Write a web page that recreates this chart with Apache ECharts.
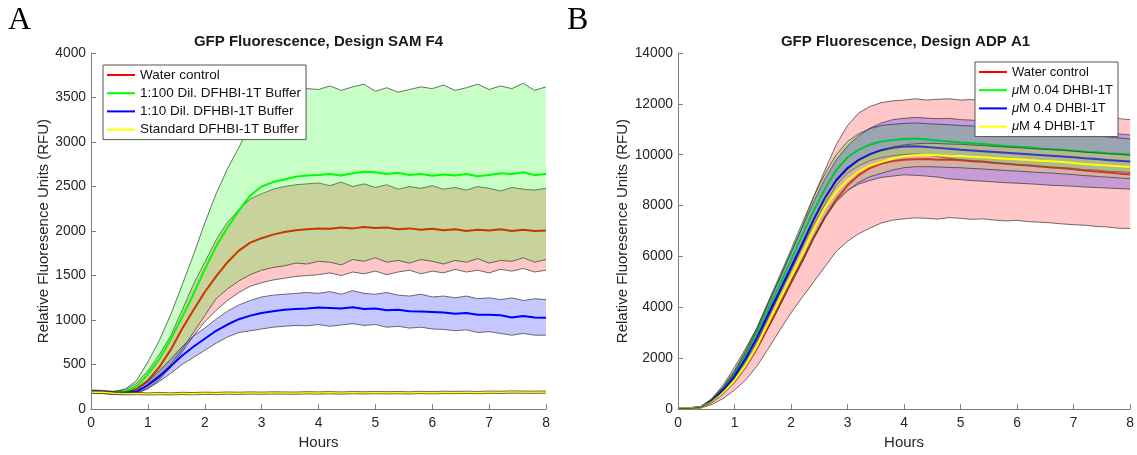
<!DOCTYPE html>
<html><head><meta charset="utf-8">
<script src="https://cdn.jsdelivr.net/npm/echarts@6/dist/echarts.min.js"></script>
<style>html,body{margin:0;padding:0;background:#fff}#c{width:1137px;height:455px}</style>
</head><body><div id="c"></div><script>
// ---------- data ----------
const hours = [0,0.2,0.4,0.6,0.8,1,1.2,1.4,1.6,1.8,2,2.2,2.4,2.6,2.8,3,3.2,3.4,3.6,3.8,4,4.2,4.4,4.6,4.8,5,5.2,5.4,5.6,5.8,6,6.2,6.4,6.6,6.8,7,7.2,7.4,7.6,7.8,8];

const namesA = ['Water control','1:100 Dil. DFHBI-1T Buffer','1:10 Dil. DFHBI-1T Buffer','Standard DFHBI-1T Buffer'];
const namesB = ['Water control','μM 0.04 DHBI-1T','μM 0.4 DHBI-1T','μM 4 DHBI-1T'];

const yTicksA = [0,500,1000,1500,2000,2500,3000,3500,4000];
const yTicksB = [0,2000,4000,6000,8000,10000,12000,14000];
const xTicks = [0,1,2,3,4,5,6,7,8];

// Panel A (SAM F4)
const aRedMean = [200,195,185,190,225,320,470,665,900,1110,1315,1490,1650,1780,1870,1920,1960,1990,2010,2020,2030,2025,2040,2030,2045,2035,2040,2020,2030,2015,2025,2010,2020,2000,2015,2005,2020,2000,2015,2000,2005];
const aRedLo   = [185,180,170,170,185,230,330,470,640,820,980,1110,1220,1310,1380,1420,1450,1470,1490,1500,1510,1530,1500,1540,1520,1550,1510,1540,1560,1520,1550,1530,1570,1540,1560,1530,1570,1550,1580,1540,1560];
const aRedHi   = [215,210,200,215,290,430,610,820,1110,1400,1650,1900,2100,2240,2360,2420,2470,2500,2520,2530,2540,2510,2550,2500,2530,2490,2520,2470,2500,2480,2510,2470,2490,2460,2500,2480,2450,2490,2470,2460,2480];

const aGreenMean = [195,190,180,195,255,390,560,780,1030,1290,1570,1830,2040,2230,2400,2500,2550,2580,2610,2625,2630,2640,2625,2650,2665,2660,2640,2655,2630,2640,2620,2635,2625,2640,2615,2630,2650,2640,2660,2630,2640];
const aGreenLo   = [180,175,165,170,195,260,350,500,670,860,1050,1240,1350,1440,1510,1560,1590,1610,1640,1630,1660,1650,1620,1680,1660,1700,1650,1670,1640,1680,1660,1630,1670,1650,1690,1640,1670,1660,1700,1650,1680];
const aGreenHi   = [210,205,195,225,320,530,770,1060,1390,1730,2090,2420,2700,2940,3190,3370,3490,3540,3580,3600,3590,3630,3580,3620,3650,3570,3610,3560,3590,3620,3600,3640,3580,3610,3650,3590,3630,3600,3660,3580,3620];

const aBlueMean = [195,190,180,180,195,270,370,480,600,700,790,880,950,1010,1050,1080,1100,1115,1125,1130,1140,1135,1130,1145,1125,1130,1110,1115,1100,1095,1090,1085,1070,1080,1060,1060,1055,1030,1045,1030,1025];
const aBlueLo   = [185,180,170,170,175,230,310,400,500,580,660,740,810,860,880,900,920,930,940,935,950,930,945,960,940,950,920,930,910,920,900,895,880,890,860,870,850,830,850,830,830];
const aBlueHi   = [205,200,190,195,215,310,430,560,700,820,910,1010,1100,1170,1220,1260,1280,1290,1300,1310,1300,1320,1290,1330,1300,1290,1310,1280,1270,1290,1260,1270,1250,1270,1240,1250,1230,1250,1220,1240,1230];

const aYellowMean = [190,188,178,172,175,170,174,171,176,173,178,175,180,177,181,178,182,180,179,183,181,184,180,185,182,186,183,185,182,187,184,188,186,189,185,190,188,192,190,189,191];
const aYellowLo   = [176,175,165,160,162,158,161,159,163,160,165,162,167,164,168,165,169,167,166,170,168,171,167,172,169,173,170,172,169,174,171,175,173,176,172,177,175,179,177,176,178];
const aYellowHi   = [204,201,191,184,188,182,187,183,189,186,191,188,193,190,194,191,195,193,192,196,194,197,193,198,195,199,196,198,195,200,197,201,199,202,198,203,201,205,203,202,204];

// Panel B (ADP A1)
const bRedMean = [30,30,70,300,680,1150,1750,2450,3250,4100,5000,5850,6750,7550,8250,8800,9200,9480,9650,9750,9800,9820,9830,9800,9810,9780,9740,9720,9680,9650,9610,9580,9540,9500,9470,9430,9380,9340,9300,9260,9220];
const bRedLo   = [20,20,40,180,420,750,1150,1700,2380,3100,3780,4400,5000,5600,6200,6600,6900,7120,7320,7430,7480,7520,7500,7470,7530,7500,7460,7480,7430,7400,7420,7370,7350,7320,7280,7250,7230,7180,7160,7110,7100];
const bRedHi   = [40,40,100,420,950,1650,2400,3200,4200,5150,6150,7200,8350,9400,10400,11150,11650,11900,12050,12120,12150,12200,12150,12180,12200,12150,12170,12120,12100,12050,12000,11950,11900,11820,11750,11680,11600,11530,11480,11420,11380];

const bGreenMean = [30,30,80,350,800,1400,2150,3000,3950,4900,5850,6850,7800,8650,9400,9900,10200,10400,10520,10580,10620,10640,10600,10560,10520,10480,10450,10420,10380,10340,10310,10290,10250,10220,10200,10160,10120,10100,10060,10040,10010];
const bGreenLo   = [25,25,70,310,720,1280,1980,2780,3660,4550,5430,6370,7250,8050,8800,9280,9570,9770,9890,9960,10010,10030,9980,9920,9860,9810,9770,9740,9690,9650,9610,9600,9550,9520,9500,9460,9410,9400,9350,9340,9300];
const bGreenHi   = [35,35,90,390,880,1520,2320,3220,4240,5250,6270,7330,8350,9250,10000,10520,10830,11030,11150,11200,11230,11250,11220,11200,11180,11150,11130,11100,11070,11030,11010,10980,10950,10920,10880,10820,10780,10740,10700,10660,10620];

const bBlueMean = [30,30,70,320,750,1300,2000,2820,3750,4660,5580,6500,7450,8300,9000,9480,9800,10020,10180,10270,10320,10330,10300,10270,10240,10200,10170,10140,10110,10080,10050,10020,9990,9960,9930,9900,9860,9830,9790,9760,9730];
const bBlueLo   = [25,25,60,270,650,1130,1770,2510,3350,4170,5010,5850,6750,7550,8200,8610,8850,8990,9110,9160,9210,9190,9160,9120,9050,9020,8980,8960,8930,8900,8880,8860,8830,8800,8780,8760,8730,8710,8690,8670,8650];
const bBlueHi   = [35,35,80,370,850,1470,2230,3130,4150,5150,6150,7150,8150,9050,9800,10350,10750,11050,11250,11380,11430,11470,11440,11420,11430,11380,11360,11330,11290,11260,11220,11180,11150,11100,11060,11000,10950,10900,10860,10820,10780];

const bYellowMean = [30,30,60,280,650,1130,1750,2500,3400,4300,5200,6100,7050,7900,8550,9000,9350,9580,9720,9850,9940,9980,9990,9980,9960,9950,9920,9900,9870,9840,9820,9790,9760,9740,9710,9680,9640,9610,9580,9550,9520];
const bYellowLo   = [25,25,50,250,590,1040,1620,2340,3200,4060,4920,5780,6700,7520,8150,8580,8920,9140,9270,9400,9490,9530,9530,9520,9500,9490,9460,9440,9410,9380,9360,9330,9300,9280,9250,9220,9180,9150,9120,9090,9060];
const bYellowHi   = [35,35,70,310,710,1220,1880,2660,3600,4540,5480,6420,7400,8280,8950,9420,9780,10020,10170,10300,10390,10430,10450,10440,10420,10410,10380,10360,10330,10300,10280,10250,10220,10200,10170,10140,10100,10070,10040,10010,9980];

// ---------- styling ----------
const FONT = "'Liberation Sans', Arial, Helvetica, sans-serif";
const AXC = '#7f7f7f', TXT = '#262626', EDGE = '#333333';
const COLORS = ['#ff0000', '#00ff00', '#0000ff', '#ffff00'];
const FILLS = ['rgba(255,0,0,0.22)', 'rgba(0,255,0,0.22)', 'rgba(0,0,255,0.22)', 'rgba(255,255,0,0.22)'];

function pts(vals) { return hours.map((h, i) => [h, vals[i]]); }

let zCounter = 2;

// band between lo and hi, drawn as one polygon through the axis scale (api.coord)
function bandSeries(g, k, lo, hi) {
  return {
    type: 'custom', xAxisIndex: g, yAxisIndex: g, coordinateSystem: 'cartesian2d',
    silent: true, animation: false, name: 'band-' + g + '-' + k, z: zCounter++,
    data: hours.map((h, i) => [h, lo[i], hi[i]]),
    encode: {x: 0, y: [1, 2]},
    renderItem: function (params, api) {
      if (params.dataIndex !== 0) return null;
      const up = hours.map((h, i) => api.coord([h, hi[i]]));
      const dn = hours.map((h, i) => api.coord([h, lo[i]]));
      const poly = up.concat(dn.slice().reverse());
      return {
        type: 'group',
        children: [
          {type: 'polygon', shape: {points: poly}, style: {fill: FILLS[k], stroke: null}},
          {type: 'polyline', shape: {points: up}, style: {fill: null, stroke: EDGE, lineWidth: 0.7}},
          {type: 'polyline', shape: {points: dn}, style: {fill: null, stroke: EDGE, lineWidth: 0.7}}
        ]
      };
    }
  };
}

function group(g, k, name, mean, lo, hi) {
  const line = {type: 'line', xAxisIndex: g, yAxisIndex: g, symbol: 'none', showSymbol: false, silent: true, animation: false,
      name: name, data: pts(mean), lineStyle: {color: COLORS[k], width: 2}, itemStyle: {color: COLORS[k]}, z: zCounter++};
  return [line, bandSeries(g, k, lo, hi)];
}

function xAxis(g) {
  return {type: 'value', gridIndex: g, min: xTicks[0], max: xTicks[xTicks.length - 1], interval: 1,
    name: 'Hours', nameLocation: 'middle', nameGap: 25,
    nameTextStyle: {fontSize: 15, color: TXT, fontFamily: FONT},
    axisLine: {show: true, lineStyle: {color: AXC, width: 1}},
    axisTick: {show: true, inside: true, length: 5, lineStyle: {color: AXC}},
    axisLabel: {fontSize: 13.8, color: TXT, margin: 7, fontFamily: FONT},
    splitLine: {show: false}, z: 40};
}
function yAxis(g, ticks, gap) {
  return {type: 'value', gridIndex: g, min: ticks[0], max: ticks[ticks.length - 1], interval: ticks[1] - ticks[0],
    name: 'Relative Fluoresence Units (RFU)', nameLocation: 'middle', nameGap: gap,
    nameTextStyle: {fontSize: 15, color: TXT, fontFamily: FONT},
    axisLine: {show: true, lineStyle: {color: AXC, width: 1}},
    axisTick: {show: true, inside: true, length: 5, lineStyle: {color: AXC}},
    axisLabel: {fontSize: 13.8, color: TXT, margin: 5, fontFamily: FONT, formatter: v => String(v)},
    splitLine: {show: false}, z: 40};
}
function legend(left, top, names, fs, extra) {
  return Object.assign({
    left: left, top: top, orient: 'vertical', data: names, icon: 'rect', z: 60,
    itemWidth: 28, itemHeight: 2, itemGap: 4.2, padding: [3, 5, 3, 4],
    backgroundColor: '#ffffff', borderColor: '#555555', borderWidth: 1, borderRadius: 0,
    selectedMode: false,
    textStyle: {fontSize: fs, fontFamily: FONT, color: '#111111', lineHeight: 14}
  }, extra || {});
}

const series = [].concat(
  group(0, 0, namesA[0], aRedMean, aRedLo, aRedHi),
  group(0, 1, namesA[1], aGreenMean, aGreenLo, aGreenHi),
  group(0, 2, namesA[2], aBlueMean, aBlueLo, aBlueHi),
  group(0, 3, namesA[3], aYellowMean, aYellowLo, aYellowHi),
  group(1, 0, namesB[0], bRedMean, bRedLo, bRedHi),
  group(1, 1, namesB[1], bGreenMean, bGreenLo, bGreenHi),
  group(1, 2, namesB[2], bBlueMean, bBlueLo, bBlueHi),
  group(1, 3, namesB[3], bYellowMean, bYellowLo, bYellowHi)
);

const titleStyle = (txt) => ({text: txt, fontSize: 15, fontWeight: 'bold', fontFamily: FONT, fill: '#1a1a1a', align: 'center', verticalAlign: 'middle'});
const letterStyle = (txt) => ({text: txt, fontSize: 32, fontFamily: "'Liberation Serif', 'Times New Roman', serif", fill: '#000', align: 'left', verticalAlign: 'middle'});

const option = {
  animation: false,
  backgroundColor: '#ffffff',
  grid: [
    {left: 91, right: 591, top: 53, bottom: 43},
    {left: 678, right: 3, top: 53, bottom: 43}
  ],
  xAxis: [xAxis(0), xAxis(1)],
  yAxis: [yAxis(0, yTicksA, 38), yAxis(1, yTicksB, 45)],
  legend: [
    legend(103, 65, namesA, 13.5),
    legend(975, 62, namesB, 13, {
      formatter: n => n.replace('μ', '{mu|μ}'),
      textStyle: {fontSize: 13, fontFamily: FONT, color: '#111111', lineHeight: 14,
        rich: {mu: {fontSize: 13, fontStyle: 'italic', fontFamily: FONT, color: '#111111'}}}
    })
  ],
  graphic: [
    {type: 'text', x: 8, y: 21, style: letterStyle('A')},
    {type: 'text', x: 567, y: 21, style: letterStyle('B')},
    {type: 'text', x: 318.5, y: 42, style: titleStyle('GFP Fluorescence, Design SAM F4')},
    {type: 'text', x: 905.5, y: 42, style: titleStyle('GFP Fluorescence, Design ADP A1')}
  ],
  series: series
};

const chart = echarts.init(document.getElementById('c'), null, {renderer: 'canvas'});
chart.setOption(option);
</script></body></html>
